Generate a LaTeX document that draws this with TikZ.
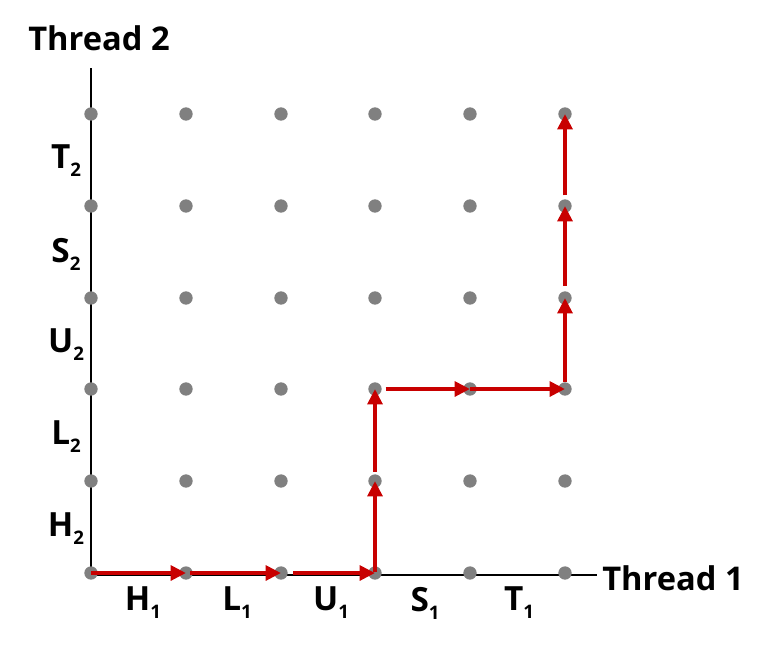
\documentclass[tikz,border=0pt]{standalone}
\usepackage{fontspec}
\setmainfont{Open Sans}
\usetikzlibrary{arrows.meta}
\definecolor{dotgray}{RGB}{128,128,128}
\definecolor{pathred}{RGB}{200,0,0}
\newcommand{\lbl}[2]{#1\raisebox{-6pt}{\fontsize{14pt}{15pt}\selectfont #2}}
\tikzset{
  dot/.style={circle,fill=dotgray,inner sep=0pt,minimum size=10pt},
  axis/.style={line width=1.1pt,black},
  redarrow/.style={line width=3.6pt,pathred,-{Triangle[length=11.5pt,width=11pt]}},
  axlabel/.style={font=\fontsize{24.5pt}{28pt}\selectfont\bfseries,inner sep=0pt},
  seglabel/.style={font=\fontsize{25pt}{28pt}\selectfont\bfseries,inner sep=0pt}
}
\begin{document}
\begin{tikzpicture}[x=0.75pt,y=-0.75pt]
\useasboundingbox (0,0) rectangle (766,644);
% axes
\coordinate (ytop) at (91,68);
\coordinate (xend) at (597,575);
\coordinate (o) at (91,575);
\draw[axis] (ytop) -- (o) -- (xend);
\node[axlabel,anchor=west] (t1) at (602,578) {Thread 1};
\node[axlabel] (t2) at (99,38) {Thread 2};
% dots
\foreach \i/\x in {0/91,1/186,2/281,3/375,4/470,5/565}{
  \foreach \j/\y in {0/573,1/481,2/389,3/298,4/206,5/114}{
    \node[dot] (d\i\j) at (\x,\y) {};
  }
}
% labels
\node[seglabel] (h1) at (143,603) {\lbl{H}{1}};
\node[seglabel] (l1) at (237,603) {\lbl{L}{1}};
\node[seglabel] (u1) at (331,603) {\lbl{U}{1}};
\node[seglabel] (s1) at (425,603) {\lbl{S}{1}};
\node[seglabel] (tt1) at (519,603) {\lbl{T}{1}};
\node[seglabel] (h2) at (66,529) {\lbl{H}{2}};
\node[seglabel] (l2) at (66,437) {\lbl{L}{2}};
\node[seglabel] (u2) at (66,345) {\lbl{U}{2}};
\node[seglabel] (s2) at (66,254) {\lbl{S}{2}};
\node[seglabel] (tt2) at (66,161) {\lbl{T}{2}};
% path
\draw[redarrow] (d00.center) -- (d10.center);
\draw[redarrow] ([xshift=3pt]d10.center) -- (d20.center);
\draw[redarrow] ([xshift=9pt]d20.center) -- (d30.center);
\draw[redarrow] ([yshift=1pt]d30.center) -- (d31.center);
\draw[redarrow] ([yshift=7pt]d31.center) -- (d32.center);
\draw[redarrow] ([xshift=8pt]d32.center) -- (d42.center);
\draw[redarrow] (d42.center) -- (d52.center);
\draw[redarrow] ([yshift=5pt]d52.center) -- (d53.center);
\draw[redarrow] ([yshift=9pt]d53.center) -- (d54.center);
\draw[redarrow] ([yshift=8pt]d54.center) -- (d55.center);
\end{tikzpicture}
\end{document}
